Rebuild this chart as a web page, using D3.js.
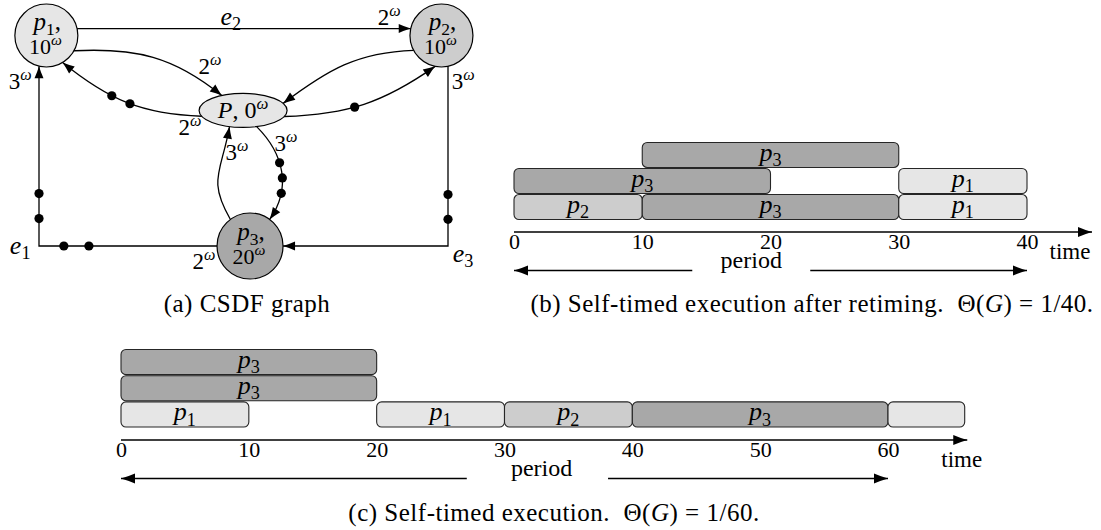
<!DOCTYPE html>
<html>
<head>
<meta charset="utf-8">
<script src="https://cdn.jsdelivr.net/npm/d3@7/dist/d3.min.js"></script>
<style>
  body { margin: 0; background: #fff; }
</style>
</head>
<body>
<svg id="fig" width="1101" height="530"></svg>
<script>
// ---------- (a) CSDF graph data ----------
var actorNames = ["p1", "p2", "P", "p3"];
var actorTimes = [10, 10, 0, 20];

// one entry per edge
var edgeFrom   = ["p3", "p1", "p2", "p1", "P", "p2", "P", "p3", "P"];
var edgeTo     = ["p1", "p2", "p3", "P", "p1", "P", "p2", "P", "p3"];
var edgeNames  = ["e1", "e2", "e3", null, null, null, null, null, null];
var edgeProd   = [2, null, 3, null, 2, null, null, null, 3];
var edgeCons   = [3, 2, null, 2, null, null, null, 3, null];
var edgeTokens = [4, 0, 2, 0, 2, 0, 1, 0, 3];

// ---------- (b) and (c) schedules ----------
var retimedTasks = [
  {actor: "p2", row: 0, start: 0, end: 10},
  {actor: "p3", row: 0, start: 10, end: 30},
  {actor: "p1", row: 0, start: 30, end: 40},
  {actor: "p3", row: 1, start: 0, end: 20},
  {actor: "p1", row: 1, start: 30, end: 40},
  {actor: "p3", row: 2, start: 10, end: 30}
];
var retimedTicks = [0, 10, 20, 30, 40];
var retimedPeriod = 40;

var selfTimedTasks = [
  {actor: "p1", row: 0, start: 0, end: 10},
  {actor: "p1", row: 0, start: 20, end: 30},
  {actor: "p2", row: 0, start: 30, end: 40},
  {actor: "p3", row: 0, start: 40, end: 60},
  {actor: "p1", row: 0, start: 60, end: 66, hidden: true},
  {actor: "p3", row: 1, start: 0, end: 20},
  {actor: "p3", row: 2, start: 0, end: 20}
];
var selfTimedTicks = [0, 10, 20, 30, 40, 50, 60];
var selfTimedPeriod = 60;

// ---------- styling / layout ----------
var FONT = "Liberation Serif";
var shade = {p1: "#e6e6e6", p2: "#cdcdcd", P: "#e6e6e6", p3: "#a8a8a8"};

var svg = d3.select("#fig").attr("font-family", FONT);
var defs = svg.append("defs");

function addMarker(id, len, half) {
  defs.append("marker")
    .attr("id", id)
    .attr("markerUnits", "userSpaceOnUse")
    .attr("viewBox", [-len - 1, -half - 1, len + 2, half * 2 + 2].join(" "))
    .attr("refX", 0).attr("refY", 0)
    .attr("markerWidth", len + 2).attr("markerHeight", half * 2 + 2)
    .attr("orient", "auto")
    .append("path")
    .attr("d", "M0,0 Q" + (-len * 0.5) + "," + (-half * 0.4) + " " + (-len) + "," + (-half) +
               " L" + (-len) + "," + half + " Q" + (-len * 0.5) + "," + (half * 0.4) + " 0,0Z")
    .attr("fill", "#000");
}
addMarker("tip", 12, 4.5);
addMarker("tipBig", 14, 5);

function plainText(sel, x, y, str, size) {
  return sel.append("text").attr("x", x).attr("y", y)
    .attr("text-anchor", "middle").attr("font-size", size)
    .attr("font-family", FONT).attr("fill", "#000").text(str);
}

// text with sub / superscripts
function mathText(sel, x, y, pieces, size, spacing) {
  var t = sel.append("text")
    .attr("x", x).attr("y", y)
    .attr("text-anchor", "middle")
    .attr("font-size", size)
    .attr("font-family", FONT)
    .attr("fill", "#000")
    .attr("letter-spacing", spacing || null)
    .attr("xml:space", "preserve");
  var cur = 0;
  pieces.forEach(function (p) {
    var off = p.sup ? -0.4 * size : p.sub ? 0.2 * size : 0;
    t.append("tspan")
      .attr("dy", off - cur)
      .attr("font-size", (p.sup || p.sub) ? size * 0.7 : size)
      .attr("font-style", p.it ? "italic" : null)
      .text(p.t);
    cur = off;
  });
  return t;
}
function omega(n) { return [{t: String(n)}, {t: "ω", sup: true, it: true}]; }
function indexed(name) {
  var out = [{t: name[0], it: true}];
  if (name.length > 1) out.push({t: name.slice(1), sub: true});
  return out;
}

// ===================== (a) graph =====================
var gx = d3.scaleLinear().domain([0, 10]).range([39, 448]);
var gy = d3.scaleLinear().domain([0, 10]).range([35.5, 246]);

var nodeLayout = {
  p1: {x: 0.18, y: 0, r: 31.5},
  p2: {x: 9.84, y: 0, r: 31.5},
  P:  {x: 4.99, y: 3.56, rx: 44, ry: 17},
  p3: {x: 5.16, y: 10, r: 33}
};
// routing of each edge (same order as the edge arrays)
var edgeRoutes = [
  {kind: "rail", rail: 0, tokensAt: [0.358, 0.428, 0.574, 0.644],
   prodAt: [4.03, 10.76], consAt: [-0.46, 2.23], nameAt: [-0.46, 10.15]},
  {kind: "top", level: -0.33, nameAt: [4.69, -0.75], consAt: [8.56, -0.81]},
  {kind: "rail", rail: 10, tokensAt: [0.372, 0.444],
   prodAt: [10.37, 2.23], nameAt: [10.37, 10.52]},
  {kind: "bend", a0: -29, t0: 3, a1: 145, t1: 141, k: 0.4, consAt: [4.18, 1.52]},
  {kind: "bend", a0: 188, t0: 178, a1: -59, t1: -39, k: 0.4, tokensAt: [0.48, 0.61], prodAt: [3.69, 4.41]},
  {kind: "bend", a0: 208, t0: 182, a1: 10, t1: 37, k: 0.4},
  {kind: "bend", a0: -8.4, t0: 2, a1: -101.5, t1: -145, k: 0.4, tokensAt: [0.44]},
  {kind: "bend", a0: 126.5, t0: 120, a1: -130, t1: -100, k: 0.5, consAt: [4.84, 5.59]},
  {kind: "bend", a0: -50, t0: -45, a1: 53.5, t1: 55, k: 0.41, tokensAt: [0.42, 0.57, 0.72], prodAt: [6.04, 5.17]}
];

var nodes = {};
actorNames.forEach(function (name, i) {
  var l = nodeLayout[name];
  nodes[name] = {name: name, time: actorTimes[i], x: gx(l.x), y: gy(l.y), r: l.r, rx: l.rx, ry: l.ry};
});

function border(n, deg) {
  var t = deg * Math.PI / 180, c = Math.cos(t), s = Math.sin(t);
  var r = n.rx ? 1 / Math.sqrt(Math.pow(c / n.rx, 2) + Math.pow(s / n.ry, 2)) : n.r;
  return [n.x + r * c, n.y - r * s];
}
function rad(d) { return d * Math.PI / 180; }

function edgePath(a, b, route) {
  var p = d3.path();
  if (route.kind === "bend") {
    var s = border(a, route.a0), e = border(b, route.a1);
    var d = route.k * Math.hypot(e[0] - s[0], e[1] - s[1]);
    p.moveTo(s[0], s[1]);
    p.bezierCurveTo(s[0] + d * Math.cos(rad(route.t0)), s[1] - d * Math.sin(rad(route.t0)),
                    e[0] + d * Math.cos(rad(route.t1)), e[1] - d * Math.sin(rad(route.t1)),
                    e[0], e[1]);
  } else if (route.kind === "top") {
    var yy = gy(route.level);
    p.moveTo(a.x + Math.sqrt(a.r * a.r - Math.pow(yy - a.y, 2)), yy);
    p.lineTo(b.x - Math.sqrt(b.r * b.r - Math.pow(yy - b.y, 2)), yy);
  } else {
    // vertical rail from a top node, horizontal leg into the bottom node
    var top = a.y < b.y ? a : b, bot = a.y < b.y ? b : a;
    var xx = gx(route.rail);
    var pts = [
      [xx, top.y + Math.sqrt(top.r * top.r - Math.pow(xx - top.x, 2))],
      [xx, bot.y],
      [xx < bot.x ? bot.x - bot.r : bot.x + bot.r, bot.y]
    ];
    if (a !== top) pts.reverse();
    p.moveTo(pts[0][0], pts[0][1]);
    p.lineTo(pts[1][0], pts[1][1]);
    p.lineTo(pts[2][0], pts[2][1]);
  }
  return p.toString();
}

var graph = svg.append("g").attr("class", "graph");
var edgeLayer = graph.append("g");
var tokenLayer = graph.append("g");
var nodeLayer = graph.append("g");
var labelLayer = graph.append("g");

edgeFrom.forEach(function (from, i) {
  var route = edgeRoutes[i];
  var path = edgeLayer.append("path")
    .attr("d", edgePath(nodes[from], nodes[edgeTo[i]], route))
    .attr("fill", "none").attr("stroke", "#000").attr("stroke-width", 1.3)
    .attr("marker-end", "url(#tip)");
  var len = path.node().getTotalLength();
  d3.range(edgeTokens[i]).forEach(function (k) {
    var pt = path.node().getPointAtLength(route.tokensAt[k] * len);
    tokenLayer.append("circle").attr("cx", pt.x).attr("cy", pt.y).attr("r", 4.6).attr("fill", "#000");
  });
  if (edgeProd[i] != null) mathText(labelLayer, gx(route.prodAt[0]), gy(route.prodAt[1]) + 7, omega(edgeProd[i]), 23);
  if (edgeCons[i] != null) mathText(labelLayer, gx(route.consAt[0]), gy(route.consAt[1]) + 7, omega(edgeCons[i]), 23);
  if (edgeNames[i]) mathText(labelLayer, gx(route.nameAt[0]), gy(route.nameAt[1]) + 5, indexed(edgeNames[i]), 26);
});

actorNames.forEach(function (name) {
  var n = nodes[name];
  if (n.rx) {
    nodeLayer.append("ellipse").attr("cx", n.x).attr("cy", n.y).attr("rx", n.rx).attr("ry", n.ry)
      .attr("fill", shade[name]).attr("stroke", "#000").attr("stroke-width", 1.2);
    mathText(nodeLayer, n.x, n.y + 8, indexed(name).concat([{t: ", "}]).concat(omega(n.time)), 24);
  } else {
    nodeLayer.append("circle").attr("cx", n.x).attr("cy", n.y).attr("r", n.r)
      .attr("fill", shade[name]).attr("stroke", "#000").attr("stroke-width", 1.2);
    mathText(nodeLayer, n.x + 1, n.y - 6, indexed(name).concat([{t: ","}]), 25);
    mathText(nodeLayer, n.x - 1, n.y + 18, omega(n.time), 22);
  }
});

// ===================== (b), (c) schedules =====================
function gantt(cfg) {
  var g = svg.append("g");
  var x = d3.scaleLinear().domain([0, cfg.period]).range(cfg.xRange);
  var y = d3.scaleBand().domain([2, 1, 0]).range(cfg.yRange).paddingInner(0.04);

  g.selectAll("rect").data(cfg.tasks).enter().append("rect")
    .attr("x", function (d) { return x(d.start); })
    .attr("width", function (d) { return x(d.end) - x(d.start); })
    .attr("y", function (d) { return y(d.row); })
    .attr("height", y.bandwidth())
    .attr("rx", 5).attr("ry", 5)
    .attr("fill", function (d) { return shade[d.actor]; })
    .attr("stroke", "#262626").attr("stroke-width", 1.1);

  cfg.tasks.filter(function (d) { return !d.hidden; }).forEach(function (d) {
    mathText(g, x((d.start + d.end) / 2), y(d.row) + y.bandwidth() / 2 + 6, indexed(d.actor), 26);
  });

  var axis = d3.axisBottom(x).tickValues(cfg.ticks).tickSize(0).tickPadding(1).tickFormat(d3.format("d"));
  var ag = g.append("g").attr("transform", "translate(0," + cfg.axisY + ")").call(axis);
  ag.select(".domain").remove();
  ag.attr("font-size", 22).attr("font-family", FONT);
  ag.selectAll("text").attr("fill", "#000");

  g.append("line")
    .attr("x1", x(0)).attr("x2", x(cfg.axisEnd))
    .attr("y1", cfg.axisY).attr("y2", cfg.axisY)
    .attr("stroke", "#000").attr("stroke-width", 1.3)
    .attr("marker-end", "url(#tipBig)");
  plainText(g, x(cfg.timeAt), cfg.axisY + 27, "time", 23);

  // period arrows
  var py = cfg.axisY + 38.5;
  g.append("line").attr("x1", x(cfg.periodLeft)).attr("x2", x(0)).attr("y1", py).attr("y2", py)
    .attr("stroke", "#000").attr("stroke-width", 1.3).attr("marker-end", "url(#tipBig)");
  g.append("line").attr("x1", x(cfg.periodRight)).attr("x2", x(cfg.period)).attr("y1", py).attr("y2", py)
    .attr("stroke", "#000").attr("stroke-width", 1.3).attr("marker-end", "url(#tipBig)");
  plainText(g, x(cfg.periodText), cfg.axisY + 36, "period", 24);
}

gantt({
  tasks: retimedTasks, ticks: retimedTicks, period: retimedPeriod,
  xRange: [514, 1027], yRange: [142.5, 219.5], axisY: 232,
  axisEnd: 45.07, timeAt: 43.35, periodLeft: 13.9, periodRight: 23.1, periodText: 18.5
});
gantt({
  tasks: selfTimedTasks, ticks: selfTimedTicks, period: selfTimedPeriod,
  xRange: [121, 888], yRange: [349.5, 427], axisY: 440,
  axisEnd: 66.2, timeAt: 65.77, periodLeft: 27.05, periodRight: 38.1, periodText: 32.9
});

// ===================== captions =====================
function caption(x, y, pieces) { mathText(svg, x, y, pieces, 25, 0.5); }
caption(247, 312, [{t: "(a) CSDF graph"}]);
caption(812, 312, [{t: "(b) Self-timed execution after retiming.  Θ("}, {t: "G", it: true},
                   {t: ") = 1/" + retimedPeriod + "."}]);
caption(554, 521, [{t: "(c) Self-timed execution.  Θ("}, {t: "G", it: true},
                   {t: ") = 1/" + selfTimedPeriod + "."}]);
</script>
</body>
</html>
